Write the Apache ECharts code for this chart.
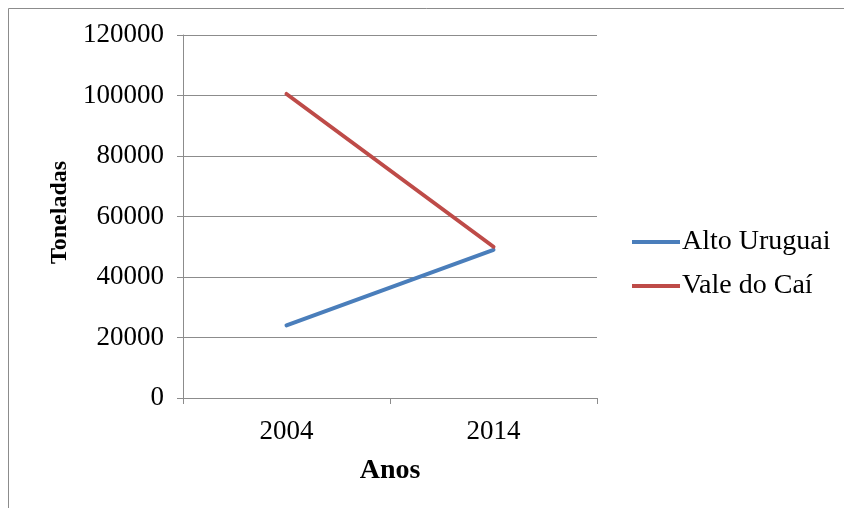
<!DOCTYPE html>
<html>
<head>
<meta charset="utf-8">
<script src="https://cdn.jsdelivr.net/npm/echarts@6/dist/echarts.min.js"></script>
<style>
  html, body { margin: 0; padding: 0; background: #fff; }
  #chart { width: 844px; height: 508px; }
</style>
</head>
<body>
<div id="chart"></div>
<script>
// Production (tonnes) by region, 2004 and 2014
const years = ['2004', '2014'];
const altoUruguai = [24000, 49000];
const valeDoCai = [100500, 50000];
const yTicks = { min: 0, max: 120000, interval: 20000 };

const serif = '"Liberation Serif", "Times New Roman", serif';
const chart = echarts.init(document.getElementById('chart'), null, { renderer: 'canvas' });

chart.setOption({
  animation: false,
  backgroundColor: '#fff',
  graphic: [{
    type: 'rect',
    shape: { x: 8.5, y: 8.5, width: 900, height: 600 },
    style: { fill: 'none', stroke: '#8c8c8c', lineWidth: 1 },
    silent: true
  }],
  grid: { left: 183, right: 247, top: 35, bottom: 110 },
  legend: {
    orient: 'vertical',
    left: 627,
    top: 223,
    itemWidth: 48,
    itemHeight: 4,
    itemGap: 16,
    icon: 'rect',
    textStyle: { fontFamily: serif, fontSize: 28, color: '#000', padding: [0, 0, 0, -3] },
    data: ['Alto Uruguai', 'Vale do Caí']
  },
  xAxis: {
    type: 'category',
    data: years,
    boundaryGap: true,
    name: 'Anos',
    nameLocation: 'middle',
    nameGap: 59,
    nameTextStyle: { fontFamily: serif, fontSize: 28, fontWeight: 'bold', color: '#000' },
    axisLine: { lineStyle: { color: '#8c8c8c', width: 1 } },
    axisTick: { show: true, length: 6, alignWithLabel: false, lineStyle: { color: '#8c8c8c' } },
    axisLabel: { fontFamily: serif, fontSize: 27, color: '#000', margin: 20 },
    splitLine: { show: false }
  },
  yAxis: {
    type: 'value',
    min: yTicks.min,
    max: yTicks.max,
    interval: yTicks.interval,
    name: 'Toneladas',
    nameLocation: 'middle',
    nameGap: 111,
    nameRotate: 90,
    nameTextStyle: { fontFamily: serif, fontSize: 24, fontWeight: 'bold', color: '#000', padding: [0, 0, 0, 8] },
    axisLine: { show: true, lineStyle: { color: '#8c8c8c', width: 1 } },
    axisTick: { show: true, inside: false, length: 6, lineStyle: { color: '#8c8c8c' } },
    axisLabel: { fontFamily: serif, fontSize: 27, color: '#000', margin: 19, formatter: v => String(v) },
    splitLine: { show: true, lineStyle: { color: '#8c8c8c', width: 1 } }
  },
  series: [
    {
      name: 'Alto Uruguai',
      type: 'line',
      data: altoUruguai,
      symbol: 'none',
      lineStyle: { color: '#4a7ebb', width: 4, cap: 'round' },
      itemStyle: { color: '#4a7ebb' }
    },
    {
      name: 'Vale do Caí',
      type: 'line',
      data: valeDoCai,
      symbol: 'none',
      lineStyle: { color: '#be4b48', width: 4, cap: 'round' },
      itemStyle: { color: '#be4b48' }
    }
  ]
});
</script>
</body>
</html>
